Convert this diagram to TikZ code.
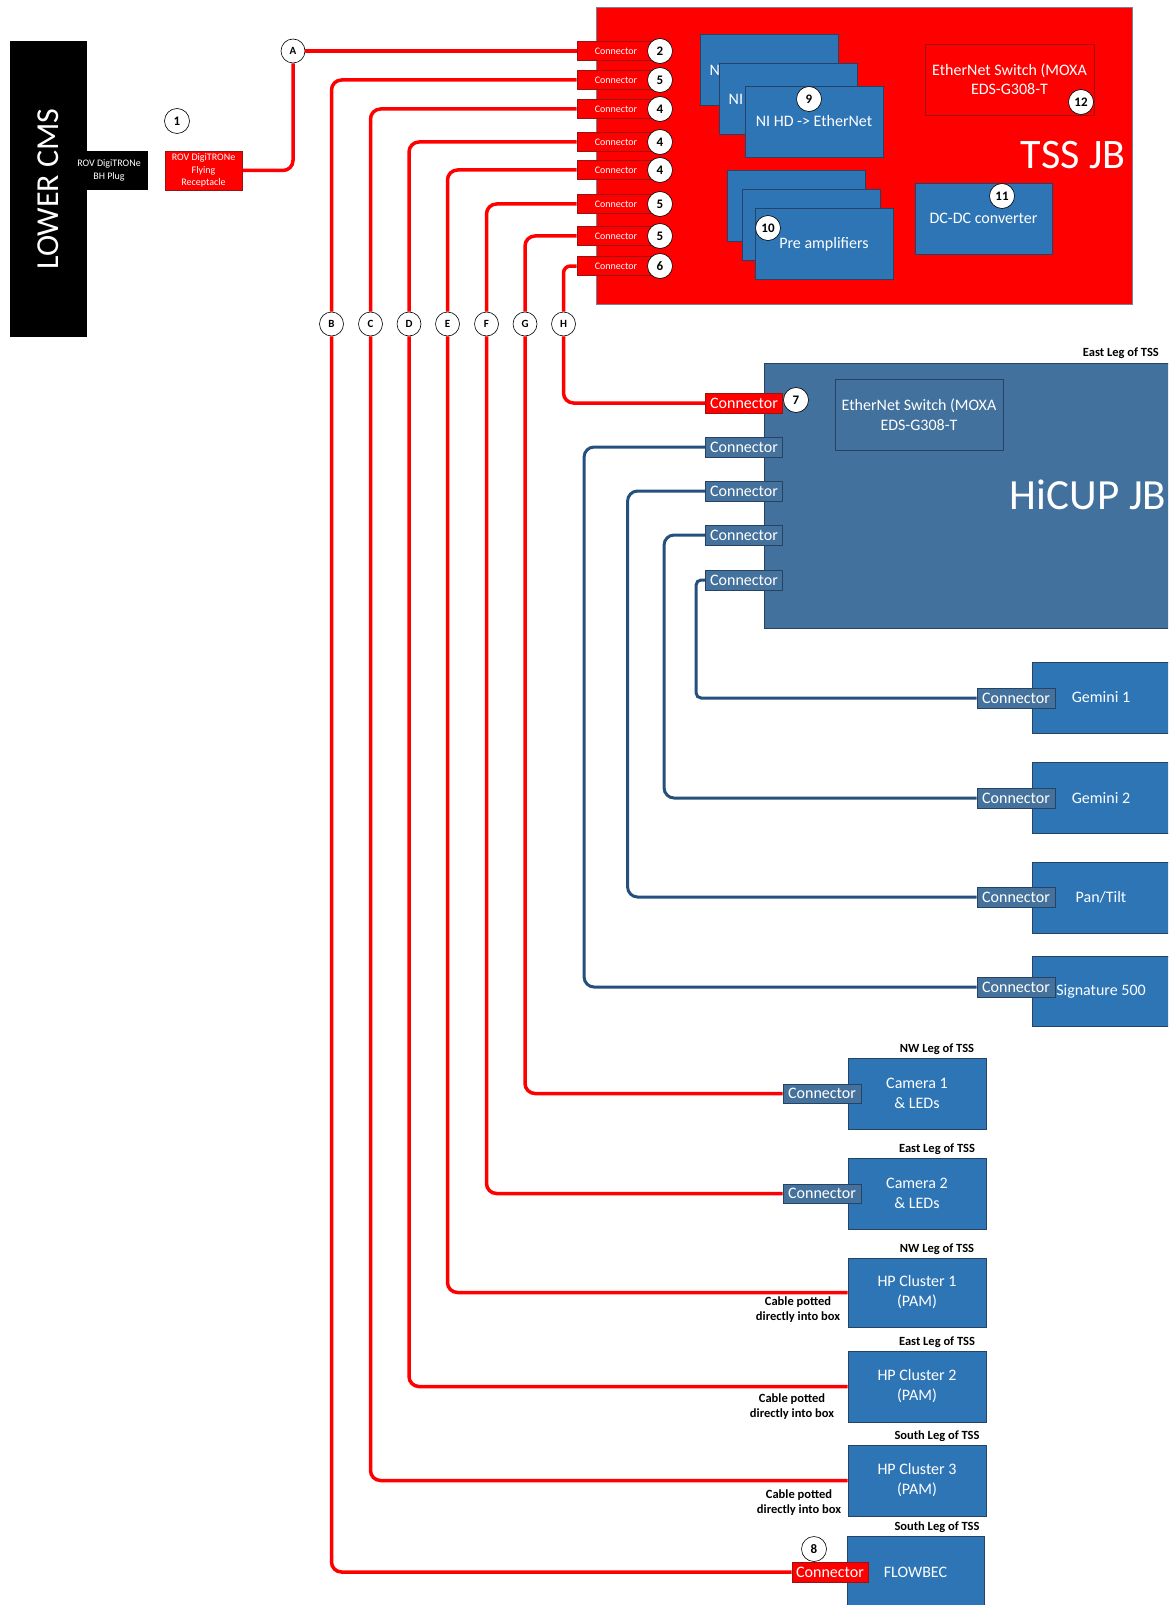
\documentclass[tikz,border=0pt]{standalone}
\usepackage{fontspec}
\setmainfont{Carlito}
\definecolor{jbred}{RGB}{255,0,0}
\definecolor{conred}{RGB}{150,20,20}
\definecolor{tssedge}{RGB}{120,130,150}
\definecolor{boxblue}{RGB}{46,117,182}
\definecolor{boxedge}{RGB}{38,66,100}
\definecolor{hicup}{RGB}{65,113,156}
\definecolor{conblue}{RGB}{68,114,157}
\definecolor{wireblue}{RGB}{37,80,125}
\begin{document}
\begin{tikzpicture}[x=1pt,y=-1pt,
  bluebox/.style={draw=boxedge, fill=boxblue, text=white, line width=0.8pt, inner sep=0pt, align=center,
    font=\fontsize{16}{20}\selectfont, minimum width=138pt, minimum height=71pt},
  tsscon/.style={draw=conred, fill=jbred, text=white, line width=0.8pt, inner sep=0pt,
    minimum width=78pt, minimum height=19pt, font=\fontsize{10}{12}\selectfont},
  bigcon/.style={draw=boxedge, fill=conblue, text=white, line width=0.8pt, inner sep=0pt,
    minimum width=77pt, minimum height=20pt, font=\fontsize{16}{19}\selectfont},
  redcon/.style={bigcon, draw=conred, fill=jbred},
  num/.style={circle, draw=black, fill=white, line width=0.6pt, minimum size=25pt, inner sep=0pt,
    font=\bfseries\fontsize{13}{15}\selectfont},
  letter/.style={num, minimum size=24pt, font=\bfseries\fontsize{11}{13}\selectfont},
  redwire/.style={draw=jbred, line width=3.5pt, rounded corners=10pt},
  bluewire/.style={draw=wireblue, line width=3pt, rounded corners=10pt},
  leg/.style={font=\bfseries\fontsize{12.5}{15}\selectfont, inner sep=0pt, align=center},
  smallbox/.style={text=white, line width=0.8pt, inner sep=0pt, align=center,
    font=\fontsize{10}{12.3}\selectfont, minimum width=78pt, minimum height=39pt},
  peek/.style={text=white, font=\fontsize{16}{20}\selectfont, inner sep=0pt, anchor=west}
]
\useasboundingbox (0,0) rectangle (1168,1605);
\clip (0,0) rectangle (1168,1605);
\fill[white] (0,0) rectangle (1168,1605);

% ---------- LOWER CMS ----------
\node[fill=black, minimum width=77pt, minimum height=296pt, inner sep=0pt] (cms) at (48.5,189) {};
\node[rotate=90, text=white, font=\fontsize{32}{38}\selectfont, inner sep=0pt] (cmslabel) at (48,189) {LOWER CMS};
\node[smallbox, fill=black] (bh) at (109,170.5) {ROV DigiTRONe\\BH Plug};
\node[smallbox, fill=jbred, draw=conred, minimum width=77pt] (rec) at (203.5,170.5) {ROV DigiTRONe\\Flying\\Receptacle};
\node[num] (n1) at (177,121) {1};

% ---------- TSS JB ----------
\node[draw=tssedge, fill=jbred, line width=0.8pt, minimum width=536pt, minimum height=297pt, inner sep=0pt] (tss) at (864,155.5) {};
\node[text=white, font=\fontsize{42}{48}\selectfont, inner sep=0pt, anchor=base] (tsslabel) at (1073,169) {TSS JB};

% NI stack
\node[bluebox] (ni1) at (769,69.5) {};
\node[peek] (ni1t) at (709.5,70) {N};
\node[bluebox] (ni2) at (788,98.5) {};
\node[peek] (ni2t) at (728.5,99) {NI};
\node[bluebox] (ni3) at (814,121.5) {NI HD -> EtherNet};
\node[num] (n9) at (809,99) {9};

% Pre amplifiers stack
\node[bluebox] (pa1) at (796.5,205.5) {};
\node[bluebox] (pa2) at (811,225) {};
\node[bluebox] (pa3) at (824,244) {Pre amplifiers};
\node[num] (n10) at (768,228) {10};

% DC-DC
\node[bluebox, minimum width=137pt] (dcdc) at (983.5,218.5) {DC-DC converter};
\node[num] (n11) at (1002,196) {11};

% Ethernet switch (TSS)
\node[draw=conred, fill=jbred, text=white, line width=0.8pt, minimum width=169pt, minimum height=71pt,
  inner sep=0pt, align=center, font=\fontsize{16}{19}\selectfont] (sw1) at (1009.5,79.5) {EtherNet Switch (MOXA\\EDS-G308-T};
\node[num] (n12) at (1081,102) {12};

% TSS connectors
\node[tsscon] (t1) at (616,51) {Connector};
\node[tsscon] (t2) at (616,80) {Connector};
\node[tsscon] (t3) at (616,109) {Connector};
\node[tsscon] (t4) at (616,142) {Connector};
\node[tsscon] (t5) at (616,170) {Connector};
\node[tsscon] (t6) at (616,204) {Connector};
\node[tsscon] (t7) at (616,236) {Connector};
\node[tsscon] (t8) at (616,266) {Connector};
\node[num] (k1) at (660,51) {2};
\node[num] (k2) at (660,80) {5};
\node[num] (k3) at (660,109) {4};
\node[num] (k4) at (660,142) {4};
\node[num] (k5) at (660,170) {4};
\node[num] (k6) at (660,204) {5};
\node[num] (k7) at (660,236) {5};
\node[num] (k8) at (660,266) {6};

% ---------- HiCUP JB ----------
\node[leg, anchor=east] (leg0) at (1159,353) {East Leg of TSS};
\node[draw=boxedge, fill=hicup, line width=0.8pt, minimum width=430pt, minimum height=265pt, inner sep=0pt] (hicup) at (979,495.5) {};
\node[draw=boxedge, line width=0.8pt, text=white, minimum width=168pt, minimum height=71pt, inner sep=0pt,
  align=center, font=\fontsize{16}{20}\selectfont] (sw2) at (919,414.5) {EtherNet Switch (MOXA\\EDS-G308-T};
\node[text=white, font=\fontsize{43}{48}\selectfont, inner sep=0pt, anchor=base] (hiculabel) at (1088,509) {HiCUP JB};
\node[redcon] (h0) at (744,403) {Connector};
\node[num] (n7) at (796,400) {7};
\node[bigcon] (h1) at (744,447) {Connector};
\node[bigcon] (h2) at (744,491) {Connector};
\node[bigcon] (h3) at (744,535) {Connector};
\node[bigcon] (h4) at (744,580) {Connector};

% ---------- Devices on HiCUP ----------
\node[bluebox] (gem1) at (1101,697.5) {Gemini 1};
\node[bigcon, minimum width=78pt] (gem1c) at (1016,698) {Connector};
\node[bluebox] (gem2) at (1101,798) {Gemini 2};
\node[bigcon, minimum width=78pt] (gem2c) at (1016,798) {Connector};
\node[bluebox] (pan) at (1101,897.5) {Pan/Tilt};
\node[bigcon, minimum width=78pt] (panc) at (1016,897) {Connector};
\node[bluebox, minimum height=70pt] (sig) at (1101,991) {Signature 500};
\node[bigcon, minimum width=78pt] (sigc) at (1016,987) {Connector};

% ---------- Other devices ----------
\node[leg] (leg1) at (937,1049) {NW Leg of TSS};
\node[bluebox] (cam1) at (917,1093.5) {Camera 1\\\& LEDs};
\node[bigcon, minimum width=78pt, minimum height=19pt] (cam1c) at (822,1093.5) {Connector};
\node[leg] (leg2) at (937,1149) {East Leg of TSS};
\node[bluebox] (cam2) at (917,1193.5) {Camera 2\\\& LEDs};
\node[bigcon, minimum width=78pt, minimum height=19pt] (cam2c) at (822,1193.5) {Connector};
\node[leg] (leg3) at (937,1249) {NW Leg of TSS};
\node[bluebox, minimum height=69pt] (hp1) at (917,1292.5) {HP Cluster 1\\(PAM)};
\node[leg] (pot1) at (798,1310) {Cable potted\\directly into box};
\node[leg] (leg4) at (937,1342) {East Leg of TSS};
\node[bluebox] (hp2) at (917,1386.5) {HP Cluster 2\\(PAM)};
\node[leg] (pot2) at (792,1406.5) {Cable potted\\directly into box};
\node[leg] (leg5) at (937,1436) {South Leg of TSS};
\node[bluebox] (hp3) at (917,1480.5) {HP Cluster 3\\(PAM)};
\node[leg] (pot3) at (799,1503) {Cable potted\\directly into box};
\node[leg] (leg6) at (937,1527) {South Leg of TSS};
\node[bluebox, minimum width=137pt, minimum height=72pt] (flow) at (915.5,1572) {FLOWBEC};
\node[redcon, minimum width=76pt] (flowc) at (830,1572) {Connector};
\node[num] (n8) at (814,1549) {8};

% ---------- Letter circles ----------
\node[letter] (A) at (293,51) {A};
\node[letter] (B) at (331.5,324) {B};
\node[letter] (C) at (370.5,324) {C};
\node[letter] (D) at (409,324) {D};
\node[letter] (E) at (447.5,324) {E};
\node[letter] (F) at (486.5,324) {F};
\node[letter] (G) at (525,324) {G};
\node[letter] (H) at (563.5,324) {H};

% ---------- Red wires ----------
\draw[redwire] (rec.east) -| (A.south);
\draw[redwire] (A.east) -- (t1.west);
\draw[redwire] (t2.west) -| (B.north);
\draw[redwire] (t3.west) -| (C.north);
\draw[redwire] (t4.west) -| (D.north);
\draw[redwire] (t5.west) -| (E.north);
\draw[redwire] (t6.west) -| (F.north);
\draw[redwire] (t7.west) -| (G.north);
\draw[redwire, rounded corners=7pt] (t8.west) -| (H.north);
\draw[redwire] (B.south) |- (flowc.west);
\draw[redwire] (C.south) |- (hp3.west);
\draw[redwire] (D.south) |- (hp2.west);
\draw[redwire] (E.south) |- (hp1.west);
\draw[redwire] (F.south) |- (cam2c.west);
\draw[redwire] (G.south) |- (cam1c.west);
\draw[redwire] (H.south) |- (h0.west);

% ---------- Blue wires ----------
\draw[bluewire] (h1.west) -- ++(-121,0) |- (sigc.west);
\draw[bluewire] (h2.west) -- ++(-77.5,0) |- (panc.west);
\draw[bluewire] (h3.west) -- ++(-41,0) |- (gem2c.west);
\draw[bluewire, rounded corners=5pt] (h4.west) -- ++(-9,0) |- (gem1c.west);
\end{tikzpicture}
\end{document}
